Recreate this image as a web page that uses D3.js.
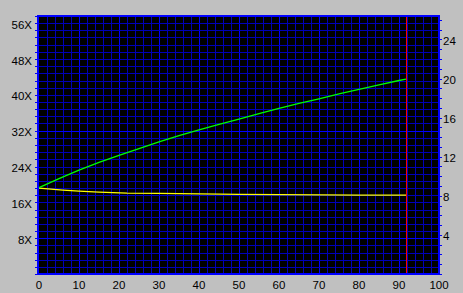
<!DOCTYPE html>
<html>
<head>
<meta charset="utf-8">
<script src="https://cdn.jsdelivr.net/npm/d3@7"></script>
<style>
  body { margin: 0; background: #c0c0c0; }
  text { font-family: "Liberation Sans", Arial, sans-serif; font-size: 11.5px; fill: #000; }
</style>
</head>
<body>
<div id="chart-area"></div>
<script>
// speed curve (left axis, X)
let speedPos = [0, 5, 10, 15, 20, 25, 30, 35, 40, 45, 50, 55, 60, 65, 70, 75, 80, 85, 90, 91.75]
let speedX = [19.3, 21.3, 23.2, 24.9, 26.5, 28.0, 29.5, 30.9, 32.2, 33.4, 34.6, 35.8, 37.0, 38.1, 39.1, 40.2, 41.2, 42.2, 43.2, 43.5]

// second curve (right axis)
let rpmPos = [0, 3, 6, 10, 15, 22, 30, 40, 50, 60, 70, 80, 91.75]
let rpmVal = [8.79, 8.69, 8.59, 8.49, 8.38, 8.28, 8.25, 8.2, 8.15, 8.12, 8.1, 8.08, 8.08]

let endPos = 91.75

let leftTicks = [8, 16, 24, 32, 40, 48, 56]
let rightTicks = [4, 8, 12, 16, 20, 24]
let bottomTicks = [0, 10, 20, 30, 40, 50, 60, 70, 80, 90, 100]

let width = 463
let height = 293

let svg = d3.select("#chart-area").append("svg")
  .attr("width", width)
  .attr("height", height)

svg.append("rect")
  .attr("width", width).attr("height", height)
  .attr("fill", "#c0c0c0")

let x = d3.scaleLinear().domain([0, 100]).range([39, 439])
let yLeft = d3.scaleLinear().domain([0, 57.6]).range([274, 16])
let yRight = d3.scaleLinear().domain([0, 26.4]).range([274, 16])

// plot background
svg.append("rect")
  .attr("x", 38).attr("y", 16)
  .attr("width", 401).attr("height", 258)
  .attr("fill", "#000")

let grid = svg.append("g").attr("shape-rendering", "crispEdges")

// vertical grid every 2 units, brighter every 10
grid.selectAll(".vgrid")
  .data(d3.range(2, 100, 2))
  .enter().append("line")
    .attr("x1", d => Math.round(x(d)) + 0.5)
    .attr("x2", d => Math.round(x(d)) + 0.5)
    .attr("y1", 16).attr("y2", 274)
    .attr("stroke", d => d % 10 === 0 ? "#0000ff" : "#0000b8")

// horizontal grid every 1.6X
grid.selectAll(".hgrid")
  .data(d3.range(1, 36))
  .enter().append("line")
    .attr("x1", 38).attr("x2", 439)
    .attr("y1", d => Math.round(yLeft(d * 1.6)) + 0.5)
    .attr("y2", d => Math.round(yLeft(d * 1.6)) + 0.5)
    .attr("stroke", d => (d === 5 || d === 20) ? "#0000ff" : "#0000b8")

// left small ticks
grid.selectAll(".lt")
  .data(d3.range(0, 37))
  .enter().append("line")
    .attr("x1", 35).attr("x2", 38)
    .attr("y1", d => Math.round(yLeft(d * 1.6)) + 0.5)
    .attr("y2", d => Math.round(yLeft(d * 1.6)) + 0.5)
    .attr("stroke", "#0000ff")

// right small ticks
grid.selectAll(".rt")
  .data(d3.range(0, 27))
  .enter().append("line")
    .attr("x1", 439).attr("x2", 442)
    .attr("y1", d => Math.round(yRight(d)) + 0.5)
    .attr("y2", d => Math.round(yRight(d)) + 0.5)
    .attr("stroke", "#0000ff")

// border
grid.append("rect")
  .attr("x", 38).attr("y", 16)
  .attr("width", 401).attr("height", 258)
  .attr("fill", "none")
  .attr("stroke", "#0000ff")
  .attr("stroke-width", 2)

// end marker
svg.append("line")
  .attr("shape-rendering", "crispEdges")
  .attr("x1", Math.round(x(endPos)) + 0.5).attr("x2", Math.round(x(endPos)) + 0.5)
  .attr("y1", 17).attr("y2", 273)
  .attr("stroke", "#ff0000")

let speedLine = d3.line()
  .x((d, i) => x(speedPos[i]))
  .y(d => yLeft(d))

let rpmLine = d3.line()
  .x((d, i) => x(rpmPos[i]))
  .y(d => yRight(d))

svg.append("path")
  .datum(rpmVal)
  .attr("d", rpmLine)
  .attr("fill", "none")
  .attr("stroke", "#ffff00")
  .attr("stroke-width", 1.3)

svg.append("path")
  .datum(speedX)
  .attr("d", speedLine)
  .attr("fill", "none")
  .attr("stroke", "#00ff00")
  .attr("stroke-width", 1.3)

// labels
svg.selectAll(".ll")
  .data(leftTicks)
  .enter().append("text")
    .attr("x", 32)
    .attr("y", d => yLeft(d) + 5.5)
    .attr("text-anchor", "end")
    .text(d => d + "X")

svg.selectAll(".rl")
  .data(rightTicks)
  .enter().append("text")
    .attr("x", 443)
    .attr("y", d => yRight(d) + 5.5)
    .text(d => d)

svg.selectAll(".bl")
  .data(bottomTicks)
  .enter().append("text")
    .attr("x", d => x(d))
    .attr("y", 289)
    .attr("text-anchor", "middle")
    .text(d => d)
</script>
</body>
</html>
